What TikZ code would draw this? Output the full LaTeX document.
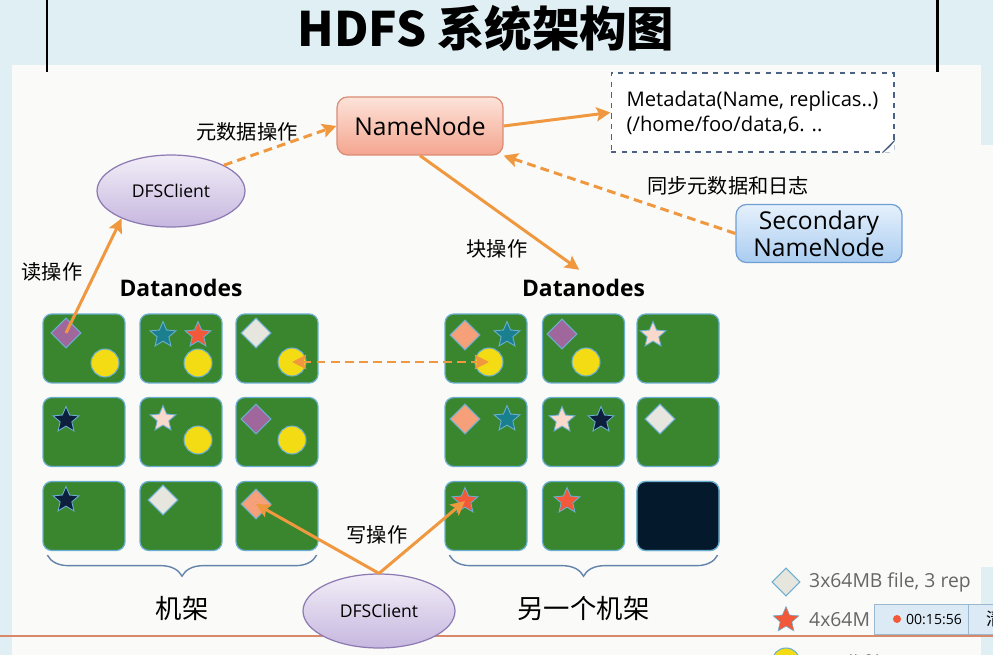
\documentclass[tikz,border=0pt]{standalone}
\usepackage{fontspec}
\setmainfont{Open Sans}
\newfontfamily\cjk{Noto Sans CJK SC}
\usetikzlibrary{arrows.meta,shapes.geometric,positioning,decorations.pathreplacing,calc}

\definecolor{bandBlue}{HTML}{DFEFF4}
\definecolor{panelWhite}{HTML}{FAFAF8}
\definecolor{flowOrange}{HTML}{F0983F}
\definecolor{rackGreen}{HTML}{3A862F}
\definecolor{rackEdge}{HTML}{6AAFCF}
\definecolor{gemPurple}{HTML}{A0679C}
\definecolor{gemGrey}{HTML}{E6E6DF}
\definecolor{gemSalmon}{HTML}{F6A07A}
\definecolor{starTeal}{HTML}{1A7F8F}
\definecolor{starRed}{HTML}{F1593A}
\definecolor{starNavy}{HTML}{0D1F3D}
\definecolor{starPink}{HTML}{F9D9CC}
\definecolor{ballYellow}{HTML}{F4DC14}
\definecolor{deadNavy}{HTML}{05192C}
\definecolor{braceBlue}{HTML}{6383AA}
\definecolor{noteEdge}{HTML}{4A6283}
\definecolor{legendGrey}{HTML}{666666}
\definecolor{recBlue}{HTML}{DCEAF5}
\definecolor{recEdge}{HTML}{9AB8D0}
\definecolor{cutRed}{HTML}{D8896A}
\definecolor{nnTop}{HTML}{FDE3D9}
\definecolor{nnBottom}{HTML}{F4A58F}
\definecolor{nnEdge}{HTML}{D98B74}
\definecolor{snnTop}{HTML}{E6F1FC}
\definecolor{snnBottom}{HTML}{A9CCF0}
\definecolor{snnEdge}{HTML}{6F9FD4}
\definecolor{clientTop}{HTML}{F2EEF7}
\definecolor{clientBottom}{HTML}{C6B7DF}
\definecolor{clientEdge}{HTML}{8D7AB3}

\tikzset{
    rack/.style={
        draw=rackEdge,
        fill=rackGreen,
        line width=0.7pt,
        rounded corners=5pt,
        minimum width=1.64cm,
        minimum height=1.38cm
    },
    gem/.style={
        diamond,
        draw=rackEdge,
        fill=#1,
        line width=0.6pt,
        minimum size=0.6cm,
        inner sep=0pt
    },
    starmark/.style={
        star,
        star points=5,
        star point ratio=2.2,
        draw=rackEdge,
        fill=#1,
        line width=0.5pt,
        minimum size=0.54cm,
        inner sep=0pt
    },
    ball/.style={
        circle,
        draw=rackEdge,
        fill=ballYellow,
        line width=0.6pt,
        minimum size=0.56cm,
        inner sep=0pt
    },
    namebox/.style={
        draw=#1Edge,
        top color=#1Top,
        bottom color=#1Bottom,
        rounded corners=6pt,
        line width=0.7pt,
        minimum width=3.32cm,
        minimum height=1.16cm,
        align=center,
        font=\fontsize{14}{15.5}\selectfont
    },
    client/.style={
        ellipse,
        draw=clientEdge,
        top color=clientTop,
        bottom color=clientBottom,
        line width=0.7pt,
        minimum width=2.96cm,
        minimum height=1.44cm,
        font=\fontsize{10}{12}\selectfont
    },
    note/.style={
        draw=noteEdge,
        dashed,
        fill=white,
        line width=0.6pt,
        minimum width=5.66cm,
        minimum height=1.58cm,
        align=left,
        font=\fontsize{11.5}{14.2}\selectfont
    },
    flow/.style={
        draw=flowOrange,
        line width=1.7pt,
        ->
    },
    sync/.style={
        flow,
        dash pattern=on 5pt off 3pt
    },
    oplabel/.style={
        font=\cjk\fontsize{11.5}{13}\selectfont
    },
    rackname/.style={
        font=\cjk\fontsize{15}{17}\selectfont
    },
    dnlabel/.style={
        font=\bfseries\fontsize{13}{15}\selectfont
    },
    legend/.style={
        anchor=west,
        text=legendGrey,
        font=\fontsize{11}{13}\selectfont
    },
    brace/.style={
        decorate,
        decoration={brace, mirror, amplitude=12pt},
        draw=braceBlue,
        line width=0.8pt
    },
    >={Stealth[length=8pt,width=8pt,inset=1.5pt]}
}

\begin{document}
\begin{tikzpicture}[x=0.02cm, y=-0.02cm, node distance = 0.3cm and 0.5cm]
    \useasboundingbox (0,0) rectangle (993,655);

    % background
    \fill[panelWhite] (0,0) rectangle (993,655);
    \fill[bandBlue] (0,0) rectangle (993,65);
    \fill[bandBlue] (0,65) rectangle (12,655);
    \fill[bandBlue] (981,65) rectangle (993,145);
    \fill[bandBlue] (981,567) rectangle (993,655);
    \draw[line width=1.7pt] (47,0) -- (47,72);
    \draw[line width=1.7pt] (937,0) -- (937,72);
    \draw[cutRed, line width=0.6pt] (0,636) -- (993,636);

    \node[font=\cjk\bfseries\fontsize{27}{30}\selectfont] (title) at (486,28) {HDFS 系统架构图};

    % blocks
    \node[namebox=nn] (NN) at (420,126) {NameNode};
    \node[note] (meta) at (752.5,112.5) {Metadata(Name, replicas..)\\(/home/foo/data,6. ..};
    \node[namebox=snn] (SNN) at (819,233.5) {Secondary\\NameNode};
    \node[client] (clientR) at (171,191) {DFSClient};

    % racks
    \foreach \r/\y in {1/348.5, 2/432, 3/516}
        \foreach \c/\xl/\xr in {1/84/486, 2/181/583.5, 3/277/678} {
            \node[rack] (L-\r-\c) at (\xl,\y) {};
            \node[rack] (R-\r-\c) at (\xr,\y) {};
        }
    \node[rack, fill=deadNavy] (dead) at (R-3-3) {};

    \node[dnlabel, above=6pt of L-1-2] (dnL) {Datanodes};
    \node[dnlabel, above=6pt of R-1-2] (dnR) {Datanodes};

    % replicas, left rack
    \node[gem=gemPurple] (gL11) at (66,333) {};
    \node[ball] (bL11) at (105,363) {};
    \node[starmark=starTeal] (sL12a) at (163,335) {};
    \node[starmark=starRed] (sL12b) at (198,335) {};
    \node[ball] (bL12) at (198,363) {};
    \node[gem=gemGrey] (gL13) at (256,333) {};
    \node[ball] (bL13) at (292,362) {};
    \node[starmark=starNavy] (sL21) at (66,420) {};
    \node[starmark=starPink] (sL22) at (163,419) {};
    \node[ball] (bL22) at (198,440) {};
    \node[gem=gemPurple] (gL23) at (256,419) {};
    \node[ball] (bL23) at (292,440) {};
    \node[starmark=starNavy] (sL31) at (66,500) {};
    \node[gem=gemGrey] (gL32) at (163,500) {};
    \node[gem=gemSalmon] (gL33) at (256,504) {};

    % replicas, right rack
    \node[gem=gemSalmon] (gR11) at (465,335) {};
    \node[starmark=starTeal] (sR11) at (507,335) {};
    \node[ball] (bR11) at (489,362) {};
    \node[gem=gemPurple] (gR12) at (562,334) {};
    \node[ball] (bR12) at (586,362) {};
    \node[starmark=starPink] (sR13) at (653,335) {};
    \node[gem=gemSalmon] (gR21) at (465,419) {};
    \node[starmark=starTeal] (sR21) at (507,419) {};
    \node[starmark=starPink] (sR22a) at (562,420) {};
    \node[starmark=starNavy] (sR22b) at (601,420) {};
    \node[gem=gemGrey] (gR23) at (660,419) {};
    \node[starmark=starRed] (sR31) at (465,501) {};
    \node[starmark=starRed] (sR32) at (567,501) {};

    % braces
    \draw[brace] ($(L-3-1.south west)+(5,4)$) -- ($(L-3-3.south east)+(-2,4)$)
        node[rackname, midway, below=20pt] (rackL) {机架};
    \draw[brace] ($(R-3-1.south west)+(5,4)$) -- ($(dead.south east)+(-2,4)$)
        node[rackname, midway, below=20pt] (rackR) {另一个机架};

    \node[client, minimum width=3.04cm, minimum height=1.48cm] (clientW) at (379,611) {DFSClient};

    % note corner
    \fill[white] (meta.south east) -- ++(-12,0) -- ++(12,-12) -- cycle;
    \draw[noteEdge, line width=0.6pt] ($(meta.south east)+(-12,0)$) -- ($(meta.south east)+(0,-12)$)
        -- ($(meta.south east)+(-5,-6)$) -- cycle;

    % lines
    \draw[sync] (clientR.26) -- (NN.west);
    \draw[flow] (NN.east) -- (meta.west);
    \draw[sync] (SNN.west) -- (NN.south east);
    \draw[flow, shorten >=3pt] (NN.south) -- (dnR.north);
    \draw[flow] (gL11.center) -- (clientR.209);
    \draw[sync, <->] (bL13.center) -- (bR11.center);
    \draw[flow] (clientW.north) -- (gL33.center);
    \draw[flow] (clientW.north) -- (sR31.center);

    \node[oplabel] (lblMeta) at (247,132) {元数据操作};
    \node[oplabel] (lblSync) at (728,186) {同步元数据和日志};
    \node[oplabel] (lblBlock) at (497,249) {块操作};
    \node[oplabel] (lblRead) at (52,272) {读操作};
    \node[oplabel] (lblWrite) at (377,535) {写操作};

    % legend
    \node[gem=gemGrey, minimum size=0.56cm] (keyGem) at (786,582) {};
    \node[legend] (keyGemTxt) at (803,582) {3x64MB file, 3 rep};
    \node[starmark=starRed, line width=0.3pt] (keyStar) at (786,620) {};
    \node[legend] (keyStarTxt) at (803,620) {4x64M};
    \node[ball] (keyBall) at (786,662) {};
    \node[legend] (keyBallTxt) at (803,664) {Small file, 7 rep};

    % recorder bar
    \node[draw=recEdge, fill=recBlue, minimum width=2.6cm, minimum height=0.6cm, anchor=north west] (rec) at (874,604) {};
    \draw[recEdge] (968,604) -- (968,634);
    \fill[starRed] (897,619) circle (4);
    \node[font=\fontsize{8}{9}\selectfont] (recTime) at (934,619) {00:15:56};
    \node[font=\cjk\fontsize{10}{11}\selectfont, anchor=west] (recBtn) at (980,619) {清};
\end{tikzpicture}
\end{document}
